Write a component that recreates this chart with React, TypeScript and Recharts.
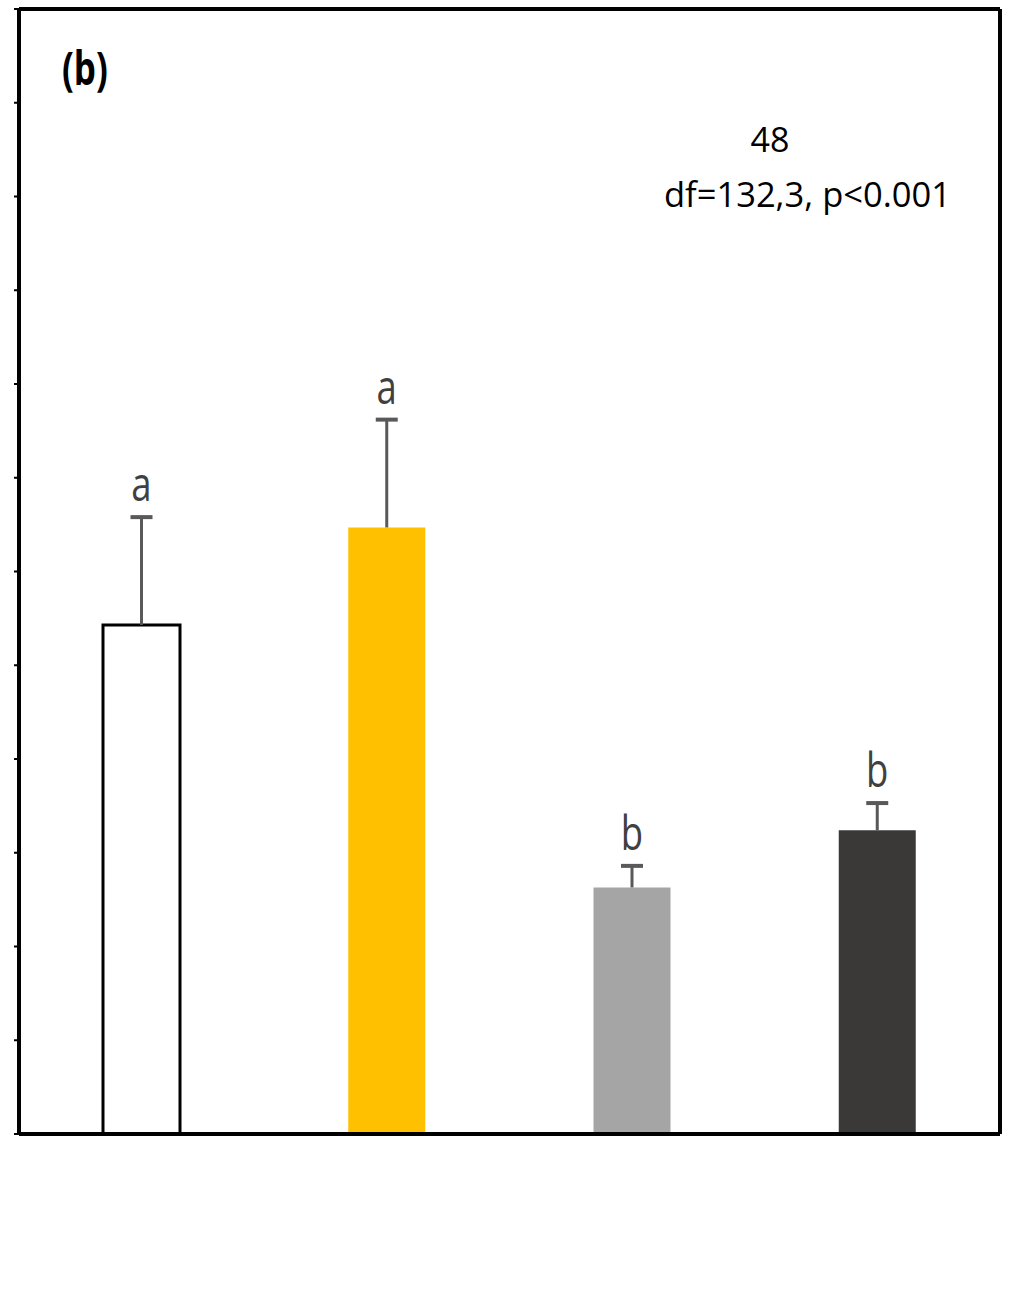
import React from 'react';
import { ComposedChart, Bar, Cell, XAxis, YAxis, LabelList } from 'recharts';

const groups = ['g1', 'g2', 'g3', 'g4'];
const means = [5.43, 6.47, 2.63, 3.24];
const errors = [1.15, 1.15, 0.23, 0.29];
const letters = ['a', 'a', 'b', 'b'];
const fills = ['#FFFFFF', '#FFC000', '#A5A5A5', '#3A3937'];
const yTicks = [0, 1, 2, 3, 4, 5, 6, 7, 8, 9, 10, 11, 12];

const data = groups.map((g, i) => ({ group: g, mean: means[i], err: errors[i], letter: letters[i] }));

const W = 1013;
const H = 1295;

// whisker drawn on top of each bar: vertical line plus a cap at the upper end
const ErrorShape = (props: any) => {
  const { x, y, width, height } = props;
  const cx = x + width / 2;
  return (
    <g>
      <line x1={cx} x2={cx} y1={y + height} y2={y} stroke="#595959" strokeWidth={3} />
      <line x1={cx - 11} x2={cx + 11} y1={y} y2={y} stroke="#595959" strokeWidth={4} />
    </g>
  );
};

const LetterLabel = (props: any) => {
  const { x, y, width, value } = props;
  const cx = x + width / 2;
  return (
    <text
      transform={`translate(${cx},${y - 16}) scale(0.76,1)`}
      textAnchor="middle"
      fontFamily="'Open Sans', sans-serif"
      fontSize={48}
      fill="#404040"
    >
      {value}
    </text>
  );
};

const App: React.FC = () => {
  return (
    <div style={{ position: 'absolute', left: 0, top: 0, width: W, height: H, background: '#fff' }}>
      <ComposedChart width={W} height={H} data={data} margin={{ top: 8, right: 12, bottom: 160, left: 18 }}>
        <XAxis dataKey="group" height={1} tick={false} tickLine={false} axisLine={{ stroke: '#000', strokeWidth: 4 }} />
        <XAxis xAxisId="top" dataKey="group" orientation="top" height={1} tick={false} tickLine={false} axisLine={{ stroke: '#000', strokeWidth: 4 }} />
        <YAxis
          domain={[0, 12]}
          ticks={yTicks}
          width={1}
          tickSize={5}
          tickFormatter={() => ''}
          tickLine={{ stroke: '#000', strokeWidth: 2 }}
          axisLine={{ stroke: '#000', strokeWidth: 4 }}
        />
        <YAxis yAxisId="right" orientation="right" width={1} tick={false} tickLine={false} axisLine={{ stroke: '#000', strokeWidth: 4 }} />
        <Bar dataKey="mean" stackId="s" barSize={77} isAnimationActive={false}>
          {data.map((d, i) => (
            <Cell key={d.group} fill={fills[i]} stroke={i === 0 ? '#000' : 'none'} strokeWidth={i === 0 ? 3 : 0} />
          ))}
        </Bar>
        <Bar dataKey="err" stackId="s" barSize={77} shape={ErrorShape} isAnimationActive={false}>
          <LabelList dataKey="letter" content={LetterLabel} />
        </Bar>
      </ComposedChart>
      <svg width={W} height={H} style={{ position: 'absolute', left: 0, top: 0, pointerEvents: 'none' }}>
        <text
          transform="translate(62,85) scale(0.76,1)"
          fontFamily="'Open Sans', sans-serif"
          fontWeight="bold"
          fontSize={46}
          fill="#000"
        >
          (b)
        </text>
        <text x={770} y={152} textAnchor="middle" fontFamily="'Open Sans', sans-serif" fontSize={34} fill="#000">
          48
        </text>
        <text x={664} y={207} fontFamily="'Open Sans', sans-serif" fontSize={34.5} fill="#000">
          df=132,3, p&lt;0.001
        </text>
      </svg>
    </div>
  );
};

export default App;
